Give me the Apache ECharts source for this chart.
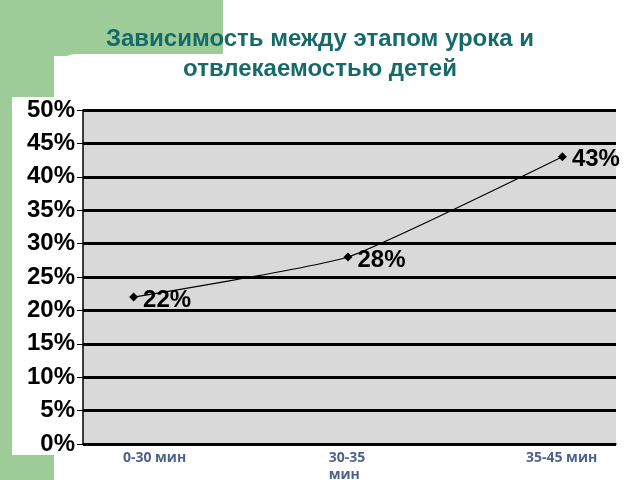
<!DOCTYPE html><html><head><meta charset="utf-8"><script src="https://cdn.jsdelivr.net/npm/echarts@6/dist/echarts.min.js"></script></head><body style="margin:0"><div id="c" style="width:640px;height:480px"></div><script>
const categories=['0-30 мин','30-35\nмин','35-45 мин'];
const values=[22,28,43];
const labelPos=[-0.05,0.91,1.83];
const yTicks=[0,5,10,15,20,25,30,35,40,45,50];
const ch=echarts.init(document.getElementById('c'));
ch.setOption({
 backgroundColor:'#fff',
 graphic:[
  {type:'rect',z:-10,shape:{x:0,y:0,width:223,height:56},style:{fill:'#9dcc98'}},
  {type:'rect',z:-10,shape:{x:0,y:0,width:54,height:480},style:{fill:'#9dcc98'}},
  {type:'rect',z:-9,shape:{x:54,y:54,width:586,height:426,r:[22,0,0,0]},style:{fill:'#fff'}},
  {type:'rect',z:-9,shape:{x:12,y:97,width:50,height:358},style:{fill:'#fff'}},
  {type:'text',left:'center',top:24,style:{text:'Зависимость между этапом урока и\nотвлекаемостью детей',font:'bold 24px "Liberation Sans",Arial',fill:'#176a6a',textAlign:'center',lineHeight:30}}
 ],
 grid:{left:83,right:24,top:110,bottom:36},
 xAxis:[{type:'value',min:-0.236,max:2.25,show:false},
  {type:'value',min:-0.236,max:2.25,position:'bottom',axisLine:{show:true,onZero:false,lineStyle:{color:'#000',width:1.5}},axisTick:{show:false},splitLine:{show:false},axisLabel:{show:false}}],
 yAxis:{type:'value',min:0,max:50,interval:5,axisLine:{show:true,onZero:false,lineStyle:{color:'#000',width:1.5}},axisTick:{show:true,length:6,lineStyle:{color:'#000'}},
  splitLine:{lineStyle:{color:'#000',width:3}},splitArea:{show:true,areaStyle:{color:['#d9d9d9','#d9d9d9']}},
  axisLabel:{formatter:v=>yTicks.includes(v)?v+'%':'',color:'#000',fontWeight:'bold',fontSize:24,fontFamily:'Liberation Sans Narrow, Arial Narrow, Liberation Sans',margin:8}},
 series:[{type:'line',data:values.map((v,i)=>[i,v]),smooth:0.15,symbol:'diamond',symbolSize:9,
  lineStyle:{color:'#000',width:1.2},itemStyle:{color:'#000'},
  label:{show:true,position:'right',formatter:p=>p.value[1]+'%',color:'#000',fontWeight:'bold',fontSize:24,fontFamily:'Liberation Sans Narrow, Liberation Sans',offset:[0,3]}},
  {type:'scatter',xAxisIndex:1,data:labelPos.map((x,i)=>[x,0]),symbolSize:0,silent:true,
  label:{show:true,position:'bottom',distance:6,formatter:p=>categories[p.dataIndex],color:'#1f3a6e',fontWeight:'bold',fontSize:14,fontFamily:'Open Sans',align:'left',lineHeight:17}}]
});
</script></body></html>
